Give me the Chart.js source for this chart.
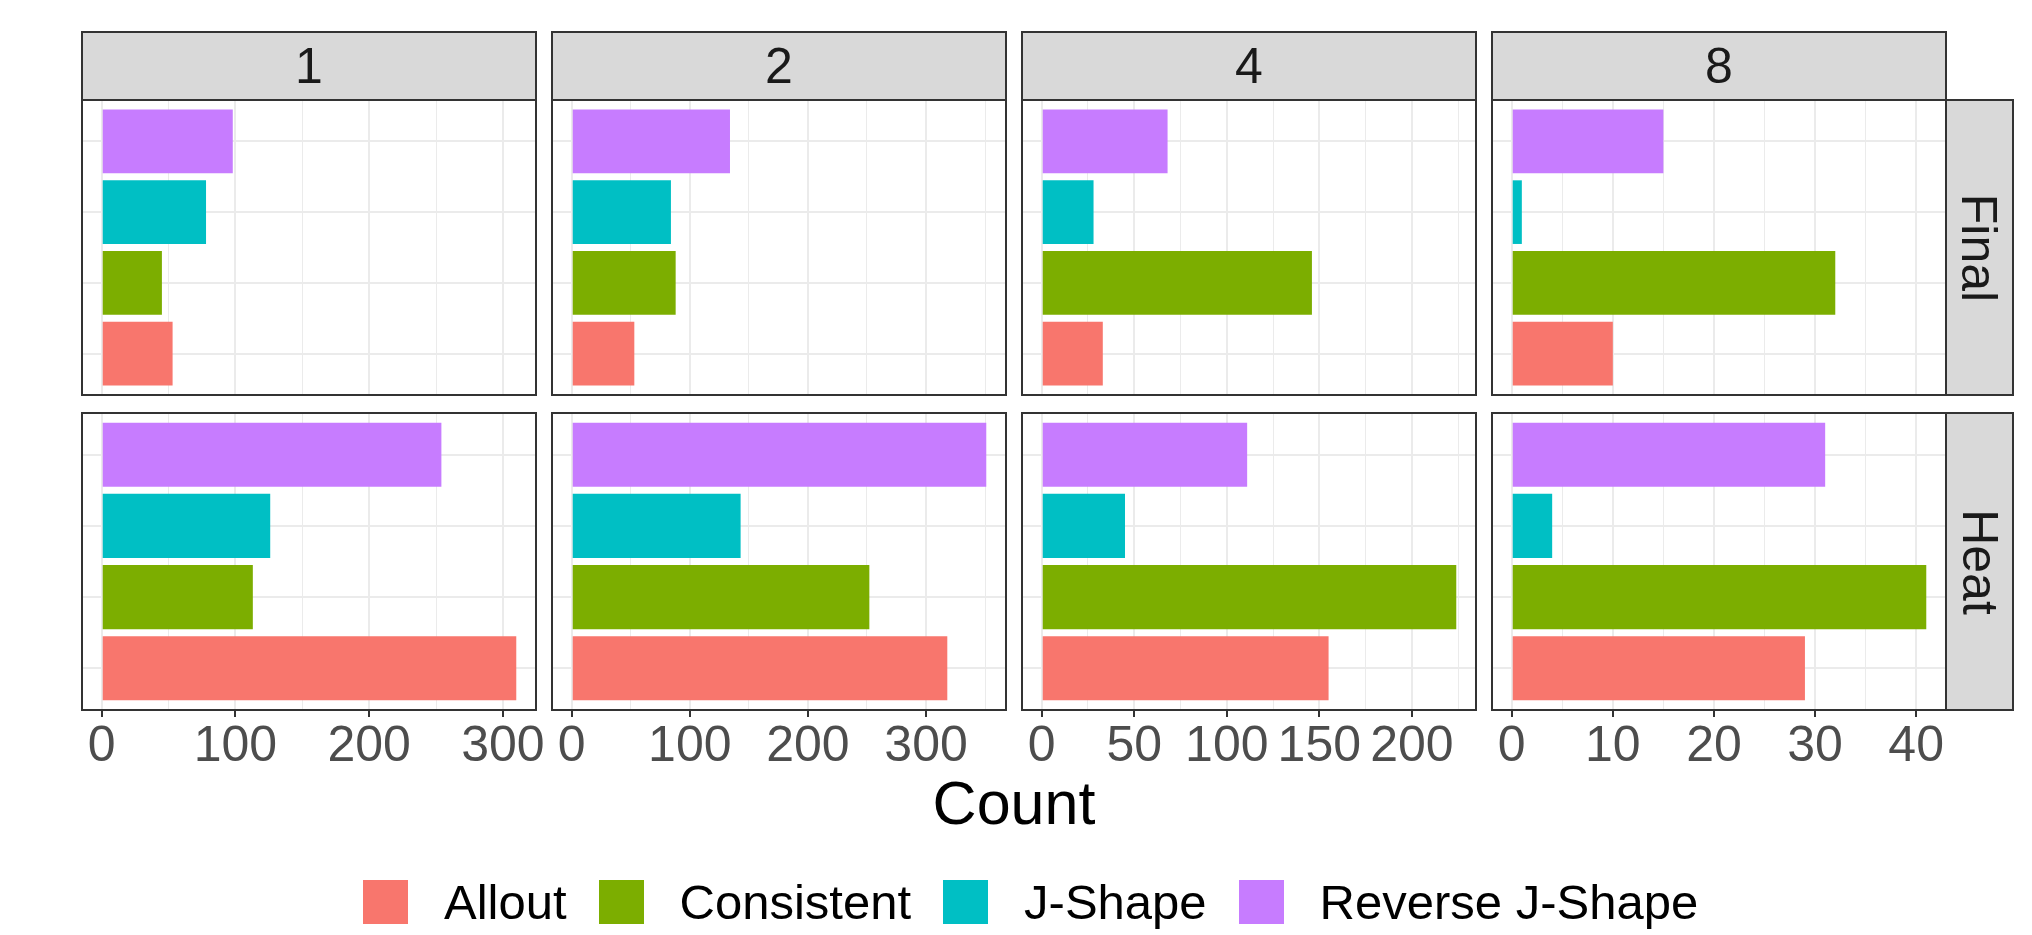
<!DOCTYPE html>
<html>
<head>
<meta charset="utf-8">
<script src="https://cdn.jsdelivr.net/npm/chart.js@4.4.1/dist/chart.umd.min.js"></script>
<style>
  body { margin: 0; background: #fff; width: 2032px; height: 935px; position: relative; overflow: hidden;
         font-family: "Liberation Sans", Arial, sans-serif; }
  .panel { position: absolute; }
  .strip { position: absolute; background: #d9d9d9; border: 2px solid #333; box-sizing: border-box;
           display: flex; align-items: center; justify-content: center; font-size: 50px; color: #1a1a1a; }
  .strip.right span { display: block; white-space: nowrap; transform: rotate(90deg); }
  #xtitle { position: absolute; left: 81px; width: 1866px; top: 768px; line-height: 70px;
            text-align: center; font-size: 61px; color: #000; }
  #legend { position: absolute; left: 363px; top: 880px; height: 44px; display: flex; align-items: center; }
  #legend .item { display: flex; align-items: center; margin-right: 32px; }
  #legend .key { width: 45px; height: 44px; margin-right: 36px; }
  #legend .lab { font-size: 49px; color: #000; line-height: 44px; }
</style>
</head>
<body>
<div id="xtitle">Count</div>
<div id="legend"></div>
<script>
// facet labels
const columns = ["1", "2", "4", "8"];
const rows = ["Final", "Heat"];
const categories = ["Allout", "Consistent", "J-Shape", "Reverse J-Shape"];
const colours = ["#F8766D", "#7CAE00", "#00BFC4", "#C77CFF"];

// counts, in category order: Allout, Consistent, J-Shape, Reverse J-Shape
const final1 = [53, 45, 78, 98];
const final2 = [53, 88, 84, 134];
const final4 = [33, 146, 28, 68];
const final8 = [10, 32, 1, 15];
const heat1 = [310, 113, 126, 254];
const heat2 = [318, 252, 143, 351];
const heat4 = [155, 224, 45, 111];
const heat8 = [29, 41, 4, 31];

const finalCounts = [final1, final2, final4, final8];
const heatCounts = [heat1, heat2, heat4, heat8];

// major x ticks of each column
const xTicks1 = [0, 100, 200, 300];
const xTicks2 = [0, 100, 200, 300];
const xTicks4 = [0, 50, 100, 150, 200];
const xTicks8 = [0, 10, 20, 30, 40];
const xTicks = [xTicks1, xTicks2, xTicks4, xTicks8];

Chart.defaults.font.family = '"Liberation Sans", Arial, sans-serif';
Chart.defaults.animation = false;

const PANEL_W = 456;
const ROW_TOP = [99, 412];
const ROW_H = [297, 299];
const AXIS_H = 70;
const SIDE = 30; // room for tick labels that stick out of a panel
const colLeft = c => 81 + 470 * c;

const panelBorder = {
  id: 'panelBorder',
  afterDraw(chart) {
    const { ctx, chartArea: a } = chart;
    ctx.save();
    ctx.strokeStyle = '#333333';
    ctx.lineWidth = 2;
    ctx.strokeRect(a.left + 1, a.top + 1, a.right - a.left - 2, a.bottom - a.top - 2);
    ctx.restore();
  }
};

function addDiv(cls, left, top, width, height, html) {
  const d = document.createElement('div');
  d.className = cls;
  d.style.left = left + 'px';
  d.style.top = top + 'px';
  d.style.width = width + 'px';
  d.style.height = height + 'px';
  if (html !== undefined) d.innerHTML = html;
  document.body.appendChild(d);
  return d;
}

columns.forEach((col, c) => {
  // column strip
  addDiv('strip', colLeft(c), 31, PANEL_W, 70, col);

  const max = Math.max(...finalCounts[c], ...heatCounts[c]);
  const xmin = -0.05 * max, xmax = 1.05 * max;
  const major = xTicks[c];
  const half = (major[1] - major[0]) / 2;
  const allTicks = [];
  for (let v = major[0] - half; v <= xmax; v += half) {
    if (v >= xmin) allTicks.push(v);
  }
  const isMajor = v => major.includes(v);

  rows.forEach((row, r) => {
    const counts = r === 0 ? finalCounts[c] : heatCounts[c];
    const bottomRow = r === rows.length - 1;
    const h = ROW_H[r] + (bottomRow ? AXIS_H : 0);
    const wrap = addDiv('panel', colLeft(c) - SIDE, ROW_TOP[r], PANEL_W + 2 * SIDE, h);
    const canvas = document.createElement('canvas');
    canvas.width = PANEL_W + 2 * SIDE;
    canvas.height = h;
    wrap.appendChild(canvas);

    new Chart(canvas, {
      type: 'bar',
      data: {
        datasets: [{
          data: counts.map((v, i) => ({ x: v, y: i + 1 })),
          backgroundColor: colours,
          borderWidth: 0,
          categoryPercentage: 1,
          barPercentage: 0.9
        }]
      },
      options: {
        indexAxis: 'y',
        responsive: false,
        layout: { padding: { left: SIDE, right: SIDE, top: 0, bottom: 0 } },
        plugins: { legend: { display: false }, tooltip: { enabled: false } },
        scales: {
          x: {
            type: 'linear',
            min: xmin,
            max: xmax,
            offset: false,
            afterBuildTicks: s => { s.ticks = allTicks.map(v => ({ value: v })); },
            afterFit: s => {
              s.height = bottomRow ? AXIS_H : 0;
              s.paddingLeft = 0;
              s.paddingRight = 0;
            },
            border: { display: false },
            grid: {
              offset: false,
              color: '#EBEBEB',
              lineWidth: ctx => isMajor(ctx.tick.value) ? 2 : 1,
              drawTicks: bottomRow,
              tickLength: 6,
              tickWidth: 2,
              tickColor: ctx => isMajor(ctx.tick.value) ? '#333333' : 'rgba(0,0,0,0)'
            },
            ticks: {
              display: bottomRow,
              autoSkip: false,
              maxRotation: 0,
              padding: 0,
              color: '#4D4D4D',
              font: { size: 50 },
              callback: v => isMajor(v) ? String(v) : ''
            }
          },
          y: {
            type: 'linear',
            min: 0.4,
            max: categories.length + 0.6,
            offset: false,
            afterBuildTicks: s => { s.ticks = categories.map((n, i) => ({ value: i + 1 })); },
            afterFit: s => { s.width = 0; s.paddingTop = 0; s.paddingBottom = 0; },
            border: { display: false },
            grid: { offset: false, color: '#EBEBEB', lineWidth: 2, drawTicks: false },
            ticks: { display: false }
          }
        }
      },
      plugins: [panelBorder]
    });

    if (c === columns.length - 1) {
      addDiv('strip right', colLeft(c) + PANEL_W - 2, ROW_TOP[r], 69, ROW_H[r], '<span>' + row + '</span>');
    }
  });
});

// legend
const legend = document.getElementById('legend');
categories.forEach((name, i) => {
  const item = document.createElement('div');
  item.className = 'item';
  item.innerHTML = '<span class="key" style="background:' + colours[i] + '"></span><span class="lab">' + name + '</span>';
  legend.appendChild(item);
});
</script>
</body>
</html>
